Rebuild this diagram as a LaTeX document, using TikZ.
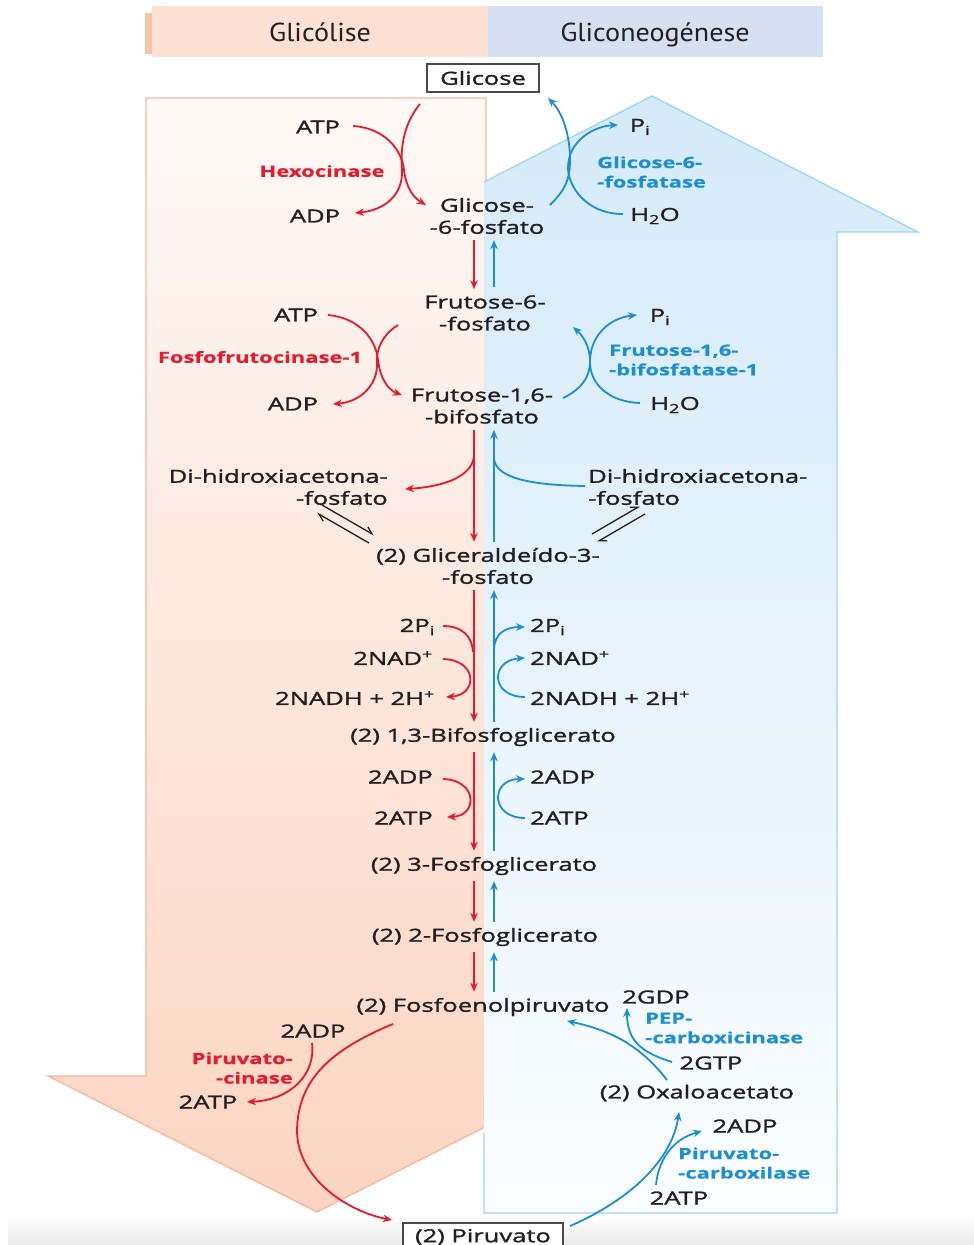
\documentclass[tikz,border=0pt]{standalone}
\usepackage{fontspec}
\setmainfont{Open Sans}[FakeStretch=1.42, FakeBold=1.6, BoldFeatures={FakeBold=0.4}]
\newfontfamily\headfont{PT Sans}[FakeStretch=1.08]
\usetikzlibrary{arrows.meta}

\definecolor{rxn}{HTML}{E8192C}
\definecolor{gng}{HTML}{1C8FD2}
\definecolor{ink}{HTML}{231F20}
\definecolor{pinktop}{HTML}{FEF9F6}
\definecolor{pinkbot}{HTML}{FCD5C2}
\definecolor{pinkline}{HTML}{F7B6A0}
\definecolor{bluetop}{HTML}{D4EAF9}
\definecolor{bluebot}{HTML}{FAFDFF}
\definecolor{blueline}{HTML}{A3D2EF}
\definecolor{hdpink}{HTML}{FDE1D3}
\definecolor{hdstripe}{HTML}{F9C2AB}
\definecolor{hdblue}{HTML}{D5E1F3}
\definecolor{boxline}{HTML}{4A4A4A}

\tikzset{
  met/.style={font=\fontsize{18}{22}\selectfont, text=ink, inner sep=0pt, align=center},
  enzR/.style={font=\fontsize{15.5}{19.5}\selectfont\bfseries, text=rxn, inner sep=0pt},
  enzB/.style={font=\fontsize{15.5}{19.5}\selectfont\bfseries, text=gng, inner sep=0pt, align=left},
  endbox/.style={met, draw=boxline, line width=1.2pt, fill=white, minimum height=28pt},
  head/.style={font=\headfont\fontsize{26}{30}\selectfont, text=ink, inner sep=0pt},
  tip/.style={-{Stealth[length=9pt,width=7.5pt]}},
  rarr/.style={draw=rxn, line width=1.8pt, tip},
  barr/.style={draw=gng, line width=1.8pt, tip},
  rline/.style={draw=rxn, line width=1.8pt},
  bline/.style={draw=gng, line width=1.8pt},
  eqharp/.style={draw=ink, line width=1.3pt, -{Straight Barb[harpoon,length=7pt,width=8pt]}},
}

\begin{document}
\begin{tikzpicture}[x=1pt,y=-1pt]
\useasboundingbox (0,0) rectangle (974,1245);
\fill[white] (0,0) rectangle (974,1245);
% soft grey floor along the bottom edge
\shade[top color=white, bottom color=black!8] (8,1214) rectangle (974,1245);

% header bands
\fill[hdpink] (152,6) rectangle (488,57);
\fill[hdstripe] (145,13) rectangle (152,54);
\fill[hdblue] (488,6) rectangle (823,57);
\node[head, anchor=base] (hglic) at (320,41) {Glicólise};
\node[head, anchor=base] (hgng) at (655,41) {Gliconeogénese};

% big downward arrow (glycolysis)
\path[top color=pinktop, bottom color=pinkbot, draw=pinkline, line width=1.3pt]
  (146,98) -- (486,98) -- (486,1076) -- (586,1076) -- (317,1212) -- (48,1076) -- (146,1076) -- cycle;

% big upward arrow (gluconeogenesis)
\begin{scope}
  \clip (484,0) rectangle (974,1245);
  \path[top color=bluetop, bottom color=bluebot]
    (484,1213) -- (484,232) -- (386,232) -- (652,96) -- (918,232) -- (837,232) -- (837,1213) -- cycle;
\end{scope}
\draw[blueline, line width=1.3pt, line join=miter]
  (484,1133) -- (484,1213) -- (837,1213) -- (837,232) -- (918,232) -- (652,96) -- (484,182);

% metabolites
\node[endbox, minimum width=112pt] (glc) at (483,78) {Glicose};
\node[met] (g6p) at (487,216) {Glicose-\\-6-fosfato};
\node[met] (f6p) at (485,313) {Frutose-6-\\-fosfato};
\node[met] (f16bp) at (482,406) {Frutose-1,6-\\-bifosfato};
\node[met, anchor=east, align=right] (dhapL) at (388,487) {Di-hidroxiacetona-\\-fosfato};
\node[met, anchor=west, align=left] (dhapR) at (588,487) {Di-hidroxiacetona-\\-fosfato};
\node[met] (gap) at (488,566) {(2) Gliceraldeído-3-\\-fosfato};
\node[met] (bpg) at (483,737) {(2) 1,3-Bifosfoglicerato};
\node[met] (pg3) at (484,866) {(2) 3-Fosfoglicerato};
\node[met] (pg2) at (485,937) {(2) 2-Fosfoglicerato};
\node[met] (pep) at (483,1007) {(2) Fosfoenolpiruvato};
\node[met] (oaa) at (697,1093) {(2) Oxaloacetato};
\node[endbox, minimum width=160pt] (pyr) at (483,1237) {(2) Piruvato};

% cofactors, glycolysis side
\node[met] (atpA) at (318,127) {ATP};
\node[met] (adpA) at (315,216) {ADP};
\node[met] (atpB) at (296,315) {ATP};
\node[met] (adpB) at (293,404) {ADP};
\node[met, anchor=east] (piL) at (435,627) {2P\textsubscript{i}};
\node[met, anchor=east] (nadL) at (433,658) {2NAD\textsuperscript{+}};
\node[met, anchor=east] (nadhL) at (435,698) {2NADH + 2H\textsuperscript{+}};
\node[met, anchor=east] (adpL) at (433,777) {2ADP};
\node[met, anchor=east] (atpL) at (433,818) {2ATP};
\node[met] (adpP) at (313,1031) {2ADP};
\node[met] (atpP) at (208,1102) {2ATP};

% cofactors, gluconeogenesis side
\node[met] (piA) at (640,127) {P\textsubscript{i}};
\node[met] (h2oA) at (655,216) {H\textsubscript{2}O};
\node[met] (piB) at (660,317) {P\textsubscript{i}};
\node[met] (h2oB) at (675,405) {H\textsubscript{2}O};
\node[met, anchor=west] (piR) at (530,627) {2P\textsubscript{i}};
\node[met, anchor=west] (nadR) at (530,658) {2NAD\textsuperscript{+}};
\node[met, anchor=west] (nadhR) at (530,698) {2NADH + 2H\textsuperscript{+}};
\node[met, anchor=west] (adpR) at (530,777) {2ADP};
\node[met, anchor=west] (atpR) at (530,818) {2ATP};
\node[met] (gdp) at (656,997) {2GDP};
\node[met] (gtp) at (711,1063) {2GTP};
\node[met] (adpC) at (745,1126) {2ADP};
\node[met] (atpC) at (679,1198) {2ATP};

% enzymes
\node[enzR] (hk) at (322,171) {Hexocinase};
\node[enzR] (pfk) at (260,357) {Fosfofrutocinase-1};
\node[enzR, anchor=east, align=right] (pk) at (293,1068) {Piruvato-\\-cinase};
\node[enzB, anchor=west] (g6pase) at (597,172) {Glicose-6-\\-fosfatase};
\node[enzB, anchor=west] (fbpase) at (609,360) {Frutose-1,6-\\-bifosfatase-1};
\node[enzB, anchor=west] (pepck) at (645,1028) {PEP-\\-carboxicinase};
\node[enzB, anchor=west] (pcx) at (678,1163) {Piruvato-\\-carboxilase};

% rails for the main vertical arrows
\coordinate (rx) at (474,0);
\coordinate (bx) at (494,0);

% ---- glycolysis (red) ----
\draw[rarr] (353,126) .. controls (385,128) and (402,150) .. (404,170)
  .. controls (406,188) and (414,198) .. (426,205);
\draw[rarr] (420,104) .. controls (405,122) and (400,145) .. (402,170)
  .. controls (403,195) and (385,210) .. (355,213);
\draw[rarr] (g6p.south -| rx) ++(0,6) -- ([yshift=6pt]f6p.north -| rx);
\draw[rarr] (328,315) .. controls (360,318) and (376,340) .. (378,360)
  .. controls (380,378) and (388,390) .. (402,395);
\draw[rarr] (398,325) .. controls (382,335) and (376,350) .. (377,363)
  .. controls (378,385) and (360,402) .. (333,404);
\draw[rarr] ([yshift=-6pt]f16bp.south -| rx) -- ([yshift=6pt]gap.north -| rx);
\draw[rarr] (474,456) .. controls (472,478) and (440,487) .. (405,489);
\draw[rarr] ([yshift=-6pt]gap.south -| rx) -- ([yshift=6pt]bpg.north -| rx);
\draw[rline] (443,626) .. controls (462,626) and (472,636) .. (473,652);
\draw[rarr] (443,659) .. controls (478,660) and (478,695) .. (446,697);
\draw[rarr] ([yshift=-6pt]bpg.south -| rx) -- ([yshift=6pt]pg3.north -| rx);
\draw[rarr] (443,779) .. controls (478,780) and (478,816) .. (447,817);
\draw[rarr] ([yshift=-6pt]pg3.south -| rx) -- ([yshift=6pt]pg2.north -| rx);
\draw[rarr] ([yshift=-6pt]pg2.south -| rx) -- ([yshift=6pt]pep.north -| rx);
\draw[rarr] (393,1024) .. controls (330,1050) and (298,1080) .. (297,1130)
  .. controls (297,1180) and (350,1212) .. (392,1220);
\draw[rarr] (312,1043) .. controls (316,1075) and (290,1100) .. (247,1102);

% ---- gluconeogenesis (blue) ----
\draw[barr] (550,205) .. controls (565,190) and (570,180) .. (570,160)
  .. controls (570,130) and (560,110) .. (548,98);
\draw[barr] (623,214) .. controls (585,214) and (568,185) .. (568,168)
  .. controls (568,140) and (595,126) .. (618,125);
\draw[barr] ([yshift=6pt]f6p.north -| bx) ++(0,-2) -- ([yshift=-6pt]g6p.south -| bx);
\draw[barr] (563,398) .. controls (580,390) and (590,378) .. (590,362)
  .. controls (590,345) and (582,335) .. (573,327);
\draw[barr] (640,403) .. controls (610,402) and (590,385) .. (590,362)
  .. controls (590,335) and (610,318) .. (637,315);
\draw[barr] ([yshift=6pt]gap.north -| bx) -- ([yshift=-6pt]f16bp.south -| bx);
\draw[bline] (585,486) .. controls (520,485) and (495,475) .. (494,458);
\draw[barr] ([yshift=6pt]bpg.north -| bx) -- ([yshift=-6pt]gap.south -| bx);
\draw[barr] (494,650) .. controls (494,634) and (505,627) .. (525,627);
\draw[barr] (525,697) .. controls (490,697) and (490,660) .. (525,658);
\draw[barr] ([yshift=6pt]pg3.north -| bx) -- ([yshift=-6pt]bpg.south -| bx);
\draw[barr] (525,818) .. controls (490,818) and (490,779) .. (525,779);
\draw[barr] ([yshift=6pt]pg2.north -| bx) -- ([yshift=-6pt]pg3.south -| bx);
\draw[barr] ([yshift=6pt]pep.north -| bx) -- ([yshift=-6pt]pg2.south -| bx);
\draw[barr] (667,1080) .. controls (640,1045) and (610,1030) .. (567,1021);
\draw[barr] (672,1062) .. controls (640,1052) and (627,1040) .. (627,1008);
\draw[barr] (570,1226) .. controls (630,1200) and (672,1160) .. (679,1112);
\draw[barr] (656,1185) .. controls (658,1163) and (670,1140) .. (702,1131);

% triose-phosphate isomerase equilibria
\draw[eqharp] (322,505) -- (374,535);
\draw[eqharp] (369,543) -- (317,513);
\draw[eqharp] (592,534) -- (640,506);
\draw[eqharp] (645,514) -- (597,542);
\end{tikzpicture}
\end{document}
